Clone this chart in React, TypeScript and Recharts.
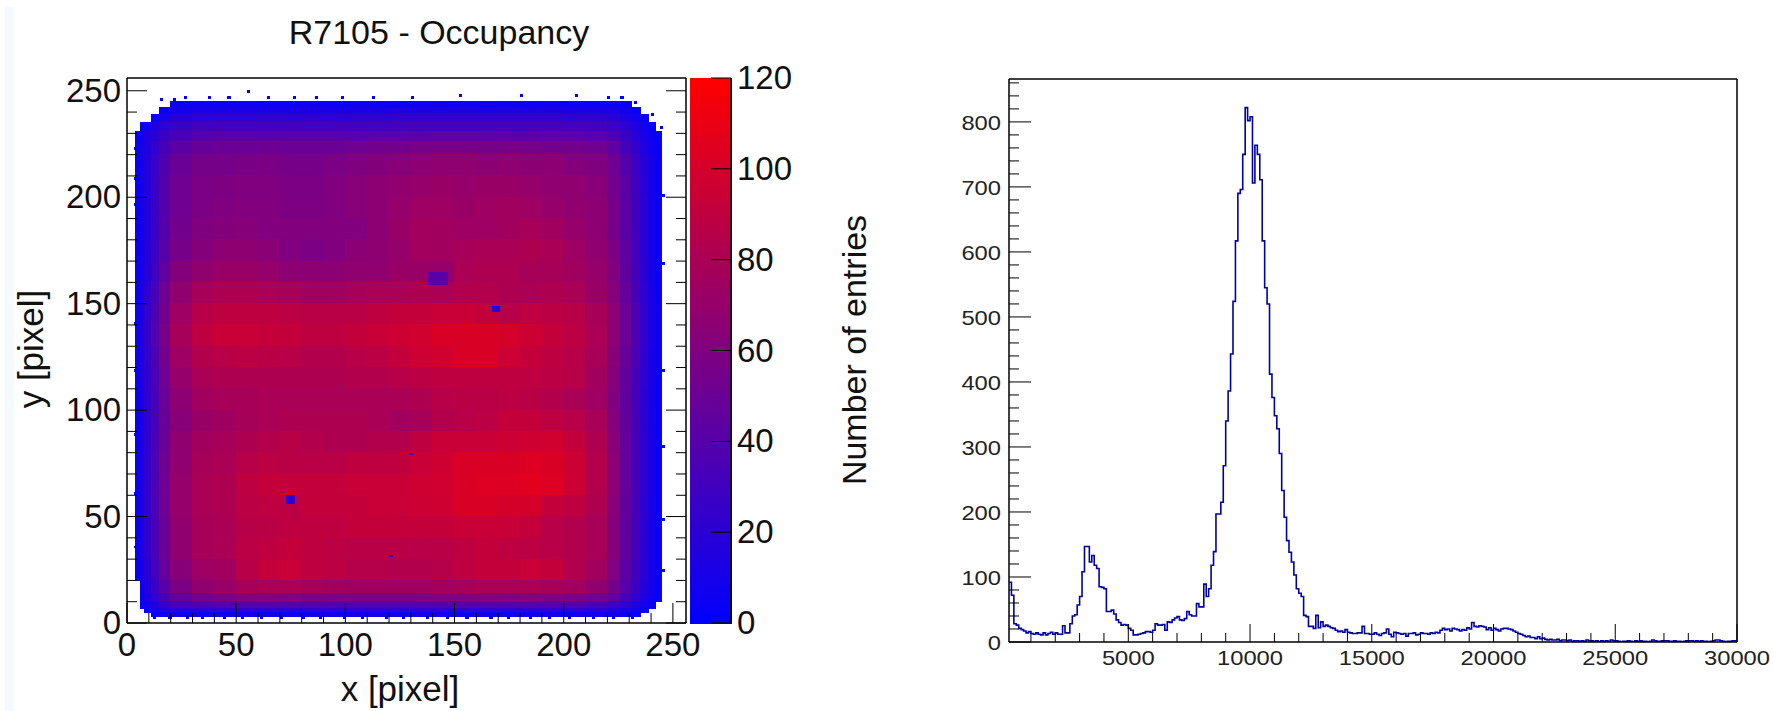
import React from "react";
import { ComposedChart, XAxis, YAxis, Line, ReferenceArea } from "recharts";

// ---------- Occupancy map: coarse hand-read estimates (the pixel-level speckle is not reproduced) ----------
const xEdges = [4,6,8,11,15,20,30,40,50,60,70,80,90,100,110,120,130,140,150,160,170,180,190,200,210,220,226,231,235,239,242,245];
const yEdgesTopDown = [245,242,239,235,231,226,220,210,200,190,180,170,160,150,140,130,120,110,100,90,80,70,60,50,40,30,20,14,10,7,5,3];
const occupancyRows = [
[0,0,0,0,0,6,6,6,7,6,6,7,6,7,6,6,7,6,7,6,7,6,7,6,6,6,4,0,0,0,0],
[0,0,0,0,5,10,12,12,12,12,12,13,12,12,12,13,13,13,13,13,13,13,13,12,12,12,8,4,0,0,0],
[0,0,0,5,12,18,22,22,22,23,23,22,22,23,23,24,24,24,24,24,24,24,24,23,23,20,14,9,4,0,0],
[0,5,9,15,22,28,31,32,32,32,32,32,32,32,33,33,34,34,34,34,34,34,34,33,32,28,22,15,9,4,0],
[5,9,14,21,28,35,40,42,42,42,42,42,42,42,44,44,45,46,46,46,45,45,44,44,42,36,27,19,12,6,3],
[6,10,16,24,34,43,48,50,50,51,50,50,50,52,54,54,56,56,56,56,56,55,54,54,52,44,33,24,15,8,4],
[6,10,17,27,38,50,56,56,57,58,56,56,58,60,62,64,66,68,68,66,68,66,66,62,60,52,39,28,18,10,5],
[6,10,17,28,40,52,58,59,60,60,58,58,60,64,66,68,70,72,70,72,72,70,68,68,64,54,42,30,19,10,5],
[6,10,17,28,40,52,58,60,61,61,59,59,60,64,66,70,74,74,72,74,76,74,70,68,66,56,43,31,20,10,5],
[6,10,17,28,40,54,60,62,63,61,61,61,61,61,66,72,76,76,74,74,76,78,76,70,66,56,43,31,20,10,5],
[6,10,18,29,42,56,62,67,67,65,60,58,60,65,67,70,76,76,78,80,80,82,80,74,68,58,44,32,20,10,5],
[6,10,18,31,46,62,68,72,72,70,66,66,66,68,68,72,72,70,80,82,82,78,78,76,70,60,45,33,21,10,5],
[6,12,22,35,52,68,78,82,82,80,78,76,76,78,80,80,82,80,84,84,82,80,82,80,72,62,47,34,22,11,5],
[7,13,24,38,54,74,86,90,90,90,88,87,87,87,90,92,92,94,94,92,86,90,88,86,78,66,50,37,24,12,6],
[7,14,25,40,56,78,90,94,94,92,92,90,90,92,94,96,98,102,102,102,100,96,92,88,80,66,50,37,24,12,6],
[7,14,24,38,54,74,84,87,88,87,86,84,84,86,88,92,96,98,102,102,96,92,90,86,78,64,48,36,23,11,6],
[7,13,23,36,52,70,80,82,82,82,82,82,82,84,84,86,88,90,90,90,90,90,88,86,76,62,46,34,22,11,5],
[6,12,22,35,50,66,76,78,78,80,80,80,80,80,80,80,82,86,87,87,88,87,84,80,74,60,45,33,21,11,5],
[6,12,22,35,50,64,72,75,78,80,82,82,82,82,80,76,78,84,86,88,92,92,90,86,78,62,46,34,21,11,5],
[6,12,22,36,50,68,76,78,82,84,86,84,82,82,84,84,90,94,94,94,96,97,98,92,82,64,47,34,22,11,5],
[7,13,23,37,52,68,78,80,86,88,87,87,87,90,90,90,94,97,102,102,102,104,102,96,84,66,47,34,22,11,5],
[7,13,23,37,52,70,80,82,90,92,92,92,92,94,94,94,97,98,102,104,104,106,104,96,84,66,47,34,22,11,5],
[7,13,23,37,52,70,80,82,88,90,88,92,92,92,94,94,96,97,102,102,100,100,92,90,82,64,46,34,21,11,5],
[6,12,22,36,50,68,78,80,86,87,90,90,90,92,92,92,92,92,94,94,94,92,86,84,78,62,45,33,21,10,5],
[6,12,22,36,50,68,78,80,88,90,92,90,88,87,87,87,86,87,90,92,90,88,86,84,78,62,45,32,21,10,5],
[6,11,20,33,48,64,74,76,86,92,94,90,88,85,85,84,84,85,90,92,92,94,92,84,76,60,43,31,20,10,5],
[0,8,16,28,42,58,68,72,78,80,80,78,76,75,75,75,75,76,78,80,80,80,78,76,68,55,40,28,17,9,4],
[0,6,13,22,34,46,54,58,62,62,60,58,58,58,58,58,58,60,60,62,60,62,60,58,52,44,32,22,13,6,3],
[0,4,9,16,25,34,38,40,42,42,42,41,40,40,40,40,40,41,42,42,42,42,40,40,36,30,22,15,9,5,0],
[0,0,6,10,15,20,22,23,23,23,23,23,23,23,23,23,23,23,23,23,23,23,23,22,20,17,12,8,5,0,0],
[0,0,0,4,7,8,9,9,9,10,9,10,9,10,9,10,9,10,9,10,9,10,9,9,9,8,6,4,0,0,0],
];
// Small low-occupancy spots visible on the map: [x1, x2, y1, y2, occupancy]
const lowSpots = [
  [138,147,159,165,42],
  [73,77,56,60,22],
  [167,171,146,149,22],
  [129,131,79,80,25],
  [120,122,31,32,25],
];
// Isolated hits just outside the main footprint: [x, y]
const strayHits = [
  [15,245],[21,245],[26,246],[37,246],[46,246],[55,249],[64,246],[76,246],[86,246],[98,246],
  [112,246],[130,246],[152,247],[180,247],[205,247],[220,246],[226,246],[232,244],[240,238],[244,232],
  [12,2],[19,2],[27,2],[34,2],[44,2],[52,2],[61,2],[70,2],[80,2],[88,2],[99,2],[107,2],[118,2],[126,2],
  [137,2],[146,2],[155,2],[166,2],[174,2],[184,2],[193,2],[202,2],[213,2],[222,2],[231,2],
  [3,222],[3,208],[3,196],[3,140],[3,118],[3,88],[3,60],[3,35],[245,200],[245,168],[245,118],[245,82],[245,48],[245,24],
];
const heatTicks = [0,10,20,30,40,50,60,70,80,90,100,110,120,130,140,150,160,170,180,190,200,210,220,230,240,250];
const paletteTicks = [0,20,40,60,80,100,120];
// Colour-bar bands: [from, to] in occupancy units.
const paletteBands = Array.from({ length: 60 }, (_, i) => [i * 2, i * 2 + 2]);

// ---------- Histogram: one estimated count per 100-wide bin, from x = 100 ----------
const histStart = 100;
const histBinWidth = 100;
const histCounts = [
92,72,28,26,21,19,17,14,16,
13,12,14,12,11,14,11,13,15,12,
14,12,12,25,14,14,28,40,42,57,
70,108,147,147,123,133,118,113,85,84,
82,47,47,49,43,34,30,26,27,26,
21,18,11,11,12,13,14,16,16,15,
18,28,26,26,27,18,31,30,34,37,
39,34,33,36,47,42,40,40,59,54,
54,89,70,82,118,139,197,197,215,271,
340,386,443,524,617,690,696,750,822,802,
808,706,764,750,711,617,545,520,412,376,
348,328,290,233,192,156,138,123,103,82,
75,70,41,39,24,24,21,41,22,31,
24,26,24,22,21,18,16,17,15,19,
15,14,13,13,14,14,24,13,13,12,
12,14,12,10,13,14,20,12,8,15,
14,13,12,13,9,13,13,14,11,12,
14,13,13,12,14,13,15,14,18,21,
19,20,17,21,20,19,17,19,18,22,
20,30,24,23,25,24,23,19,22,18,
21,19,17,20,21,21,20,19,17,15,
13,12,10,8,9,7,7,5,8,5,
6,4,3,4,3,3,4,2,3,3,
2,3,1,2,2,1,2,1,3,2,
2,1,2,0,2,1,2,1,3,2,
2,1,0,1,1,2,1,0,2,1,
2,1,1,0,1,3,2,1,1,2,
2,2,1,1,2,1,1,0,1,2,
2,2,1,2,1,2,1,1,0,1,
2,3,3,2,1,0,1,1,2,2,2,
];
const histXMajor = [5000,10000,15000,20000,25000,30000];
const histXTicks = [1000,2000,3000,4000,5000,6000,7000,8000,9000,10000,11000,12000,13000,14000,15000,16000,17000,18000,19000,20000,21000,22000,23000,24000,25000,26000,27000,28000,29000,30000];
const histYTicks = [0,20,40,60,80,100,120,140,160,180,200,220,240,260,280,300,320,340,360,380,400,420,440,460,480,500,520,540,560,580,600,620,640,660,680,700,720,740,760,780,800,820,840,860];

const histData = histCounts.map((c, i) => ({ x: histStart + i * histBinWidth, y: c }));

const FONT = '"Liberation Sans", Arial, sans-serif';
const INK = "#000";

function occupancyColor(v: number) {
  const t = Math.min(1, v / 120);
  return `rgb(${Math.round(255 * t)},0,${Math.round(255 * (1 - t))})`;
}

const heatBottomTick = (p: any) => {
  const v = p.payload.value;
  const major = v % 50 === 0;
  return (
    <g>
      <line x1={p.x} x2={p.x} y1={p.y} y2={p.y - (major ? 20 : 10)} stroke={INK} strokeWidth={1} />
      {major && (
        <text x={p.x} y={p.y + 33} textAnchor="middle" fontFamily={FONT} fontSize={33} fill="#111">{v}</text>
      )}
    </g>
  );
};
const heatTopTick = (p: any) => {
  const major = p.payload.value % 50 === 0;
  return <line x1={p.x} x2={p.x} y1={p.y} y2={p.y + (major ? 20 : 10)} stroke={INK} strokeWidth={1} />;
};
const heatLeftTick = (p: any) => {
  const v = p.payload.value;
  const major = v % 50 === 0;
  return (
    <g>
      <line x1={p.x} x2={p.x + (major ? 20 : 10)} y1={p.y} y2={p.y} stroke={INK} strokeWidth={1} />
      {major && (
        <text x={p.x - 6} y={p.y + 11} textAnchor="end" fontFamily={FONT} fontSize={33} fill="#111">{v}</text>
      )}
    </g>
  );
};
const heatRightTick = (p: any) => {
  const major = p.payload.value % 50 === 0;
  return <line x1={p.x} x2={p.x - (major ? 20 : 10)} y1={p.y} y2={p.y} stroke={INK} strokeWidth={1} />;
};
const paletteTick = (p: any) => (
  <g>
    <line x1={p.x} x2={p.x - 20} y1={p.y} y2={p.y} stroke={INK} strokeWidth={1} />
    <text x={p.x + 6} y={p.y + 11} textAnchor="start" fontFamily={FONT} fontSize={33} fill="#111">{p.payload.value}</text>
  </g>
);
const HIST_FONT = 21;
const HIST_DIGIT = 13.2;
const histBottomTick = (p: any) => {
  const v = p.payload.value;
  const major = histXMajor.includes(v);
  return (
    <g>
      <line x1={p.x} x2={p.x} y1={p.y} y2={p.y - (major ? 18 : 9)} stroke={INK} strokeWidth={1} />
      {major && (
        <text x={p.x} y={p.y + 23} textAnchor="middle" fontFamily={FONT} fontSize={HIST_FONT} fill="#222"
          textLength={String(v).length * HIST_DIGIT} lengthAdjust="spacingAndGlyphs">{v}</text>
      )}
    </g>
  );
};
const histLeftTick = (p: any) => {
  const v = p.payload.value;
  const major = v % 100 === 0;
  return (
    <g>
      <line x1={p.x} x2={p.x + (major ? 22 : 10)} y1={p.y} y2={p.y} stroke={INK} strokeWidth={1} />
      {major && (
        <text x={p.x - 8} y={p.y + 8} textAnchor="end" fontFamily={FONT} fontSize={HIST_FONT} fill="#222"
          textLength={String(v).length * HIST_DIGIT} lengthAdjust="spacingAndGlyphs">{v}</text>
      )}
    </g>
  );
};

const axisLine = { stroke: INK, strokeWidth: 1.5 };
const textBase: React.CSSProperties = { position: "absolute", fontFamily: FONT, color: "#111", whiteSpace: "nowrap", lineHeight: 1.2 };

function centered(cx: number, cy: number, size: number, rotate = 0): React.CSSProperties {
  return { ...textBase, left: cx, top: cy, fontSize: size, transform: `translate(-50%,-50%) rotate(${rotate}deg)` };
}

function OccupancyMap() {
  return (
    <div style={{ position: "absolute", left: 0, top: 0 }}>
      <ComposedChart width={715} height={711} margin={{ top: 77, right: 28, bottom: 48, left: 67 }}>
        <XAxis xAxisId="b" type="number" dataKey="x" domain={[0, 256]} allowDataOverflow ticks={heatTicks} interval={0} height={40} tickSize={0} tickMargin={0} tickLine={false} axisLine={axisLine} tick={heatBottomTick} />
        <XAxis xAxisId="t" type="number" orientation="top" domain={[0, 256]} allowDataOverflow ticks={heatTicks} interval={0} height={1} tickSize={0} tickMargin={0} tickLine={false} axisLine={axisLine} tick={heatTopTick} />
        <YAxis yAxisId="l" type="number" dataKey="y" domain={[0, 256]} allowDataOverflow ticks={heatTicks} interval={0} width={60} tickSize={0} tickMargin={0} tickLine={false} axisLine={axisLine} tick={heatLeftTick} />
        <YAxis yAxisId="r" type="number" orientation="right" domain={[0, 256]} allowDataOverflow ticks={heatTicks} interval={0} width={1} tickSize={0} tickMargin={0} tickLine={false} axisLine={axisLine} tick={heatRightTick} />
        {occupancyRows.flatMap((row, r) =>
          row.map((v, c) =>
            v > 0 ? (
              <ReferenceArea
                key={`${r}-${c}`}
                xAxisId="b"
                yAxisId="l"
                x1={xEdges[c]}
                x2={xEdges[c + 1]}
                y1={yEdgesTopDown[r + 1]}
                y2={yEdgesTopDown[r]}
                fill={occupancyColor(v)}
                fillOpacity={1}
                stroke={occupancyColor(v)}
                strokeOpacity={1}
                strokeWidth={1}
                shapeRendering="crispEdges"
              />
            ) : null
          )
        )}
        {lowSpots.map(([x1, x2, y1, y2, v], i) => (
          <ReferenceArea key={`s${i}`} xAxisId="b" yAxisId="l" x1={x1} x2={x2} y1={y1} y2={y2} fill={occupancyColor(v)} fillOpacity={1} stroke="none" shapeRendering="crispEdges" />
        ))}
        {strayHits.map(([x, y], i) => (
          <ReferenceArea key={`h${i}`} xAxisId="b" yAxisId="l" x1={x} x2={x + 1.4} y1={y} y2={y + 1.4} fill={occupancyColor(0)} fillOpacity={1} stroke="none" shapeRendering="crispEdges" />
        ))}
      </ComposedChart>
    </div>
  );
}

function Palette() {
  return (
    <div style={{ position: "absolute", left: 689, top: 0 }}>
      <ComposedChart width={110} height={711} margin={{ top: 78, right: 67, bottom: 87, left: 1 }}>
        <XAxis xAxisId="pb" type="number" dataKey="x" domain={[0, 100]} allowDataOverflow ticks={[0, 100]} height={1} tick={false} tickLine={false} axisLine={false} />
        <YAxis yAxisId="pr" type="number" dataKey="y" orientation="right" domain={[0, 120]} allowDataOverflow ticks={paletteTicks} interval={0} width={1} tickSize={0} tickMargin={0} tickLine={false} axisLine={axisLine} tick={paletteTick} />
        {paletteBands.map(([from, to]) => (
          <ReferenceArea
            key={from}
            xAxisId="pb"
            yAxisId="pr"
            x1={0}
            x2={100}
            y1={from}
            y2={to}
            fill={occupancyColor((from + to) / 2)}
            fillOpacity={1}
            stroke={occupancyColor((from + to) / 2)}
            strokeOpacity={1}
            strokeWidth={1}
            shapeRendering="crispEdges"
          />
        ))}
      </ComposedChart>
    </div>
  );
}

function Histogram() {
  return (
    <div style={{ position: "absolute", left: 930, top: 0 }}>
      <ComposedChart width={843} height={711} data={histData} margin={{ top: 78, right: 35, bottom: 29, left: 19 }}>
        <XAxis type="number" dataKey="x" domain={[100, 30000]} allowDataOverflow ticks={histXTicks} interval={0} height={40} tickSize={0} tickMargin={0} tickLine={false} axisLine={axisLine} tick={histBottomTick} />
        <XAxis xAxisId="t" type="number" orientation="top" domain={[100, 30000]} allowDataOverflow height={1} tick={false} tickLine={false} axisLine={axisLine} />
        <YAxis type="number" domain={[0, 866]} allowDataOverflow ticks={histYTicks} interval={0} width={60} tickSize={0} tickMargin={0} tickLine={false} axisLine={axisLine} tick={histLeftTick} />
        <YAxis yAxisId="r" type="number" orientation="right" domain={[0, 866]} allowDataOverflow width={1} tick={false} tickLine={false} axisLine={axisLine} />
        <Line type="stepAfter" dataKey="y" stroke="#0000a8" strokeWidth={1.6} dot={false} activeDot={false} isAnimationActive={false} />
      </ComposedChart>
    </div>
  );
}

export default function App() {
  return (
    <div style={{ position: "absolute", left: 0, top: 0, width: 1773, height: 711, overflow: "hidden", background: "#fff" }}>
      <div style={{ position: "absolute", left: 5, top: 7, width: 9, height: 704, background: "#f6faff" }} />
      <OccupancyMap />
      <Palette />
      <Histogram />
      <div style={centered(439, 32, 34)}>R7105 - Occupancy</div>
      <div style={centered(31, 349, 35, -90)}>y [pixel]</div>
      <div style={centered(400, 689, 35)}>x [pixel]</div>
      <div style={centered(854, 350, 34, -90)}>Number of entries</div>
    </div>
  );
}
